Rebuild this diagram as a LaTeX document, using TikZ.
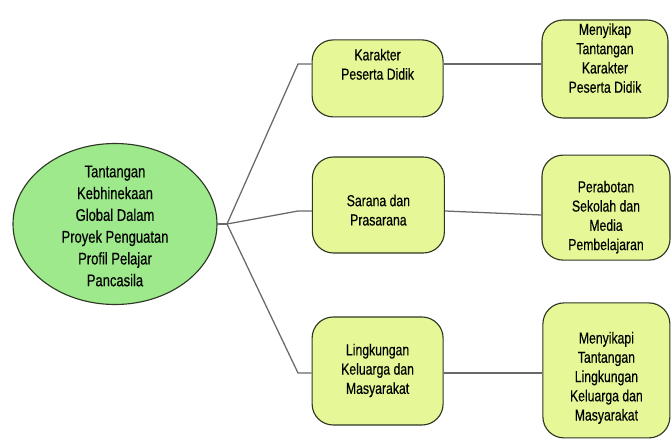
\documentclass[tikz,border=0pt]{standalone}
\usepackage{fontspec}
\setmainfont{Liberation Sans}[FakeStretch=0.77, FakeBold=0.35]
\usepackage{xcolor}
\usetikzlibrary{shapes.geometric, positioning}
\definecolor{rootgreen}{RGB}{158,233,140}
\definecolor{boxlime}{RGB}{229,247,150}
\definecolor{edgedark}{RGB}{45,55,35}
\definecolor{linkgray}{RGB}{105,105,105}
% lines of a node, moved up or down inside their box
\newcommand{\boxlines}[2]{\raisebox{#1}[0pt][0pt]{\begin{tabular}{@{}c@{}}#2\end{tabular}}}
\tikzset{
  rootnode/.style={ellipse, draw=edgedark, fill=rootgreen, line width=0.8pt,
                   minimum width=5.1cm, minimum height=4.025cm, inner sep=0pt,
                   font=\fontsize{12}{15.5}\selectfont},
  topic/.style={rectangle, draw=edgedark, fill=boxlime, rounded corners=15pt,
                line width=0.8pt, inner sep=0pt,
                font=\fontsize{11.3}{13.7}\selectfont},
  link/.style={draw=linkgray, line width=0.9pt},
  hublink/.style={draw=linkgray, line width=1.8pt}
}

\begin{document}
\begin{tikzpicture}

  \useasboundingbox (0,0) rectangle (16.8,-11);

  %% ── Root ────────────────────────────────────────────────────────────────
  \node[rootnode] (root) at (2.875,-5.6)
        {\boxlines{-0.19cm}{Tantangan\\Kebhinekaan\\Global Dalam\\Proyek Penguatan\\Profil Pelajar\\Pancasila}};

  %% ── Middle column ───────────────────────────────────────────────────────
  \node[topic, minimum width=3.275cm, minimum height=1.925cm] (karakter) at (9.44,-1.96)
        {\boxlines{0.21cm}{Karakter\\Peserta Didik}};
  \node[topic, minimum width=3.3cm, minimum height=2.4cm] (sarana) at (9.46,-5.125)
        {\boxlines{-0.27cm}{Sarana dan\\Prasarana}};
  \node[topic, minimum width=3.275cm, minimum height=2.7cm] (lingkungan) at (9.44,-9.275)
        {\boxlines{-0.09cm}{Lingkungan\\Keluarga dan\\Masyarakat}};

  %% ── Right column ────────────────────────────────────────────────────────
  \node[topic, minimum width=3.15cm, minimum height=2.45cm] (sikapkarakter) at (15.125,-1.725)
        {\boxlines{0.13cm}{Menyikap\\Tantangan\\Karakter\\Peserta Didik}};
  \node[topic, minimum width=3.2cm, minimum height=2.625cm] (perabotan) at (15.15,-5.19)
        {\boxlines{-0.34cm}{Perabotan\\Sekolah dan\\Media\\Pembelajaran}};
  \node[topic, minimum width=3.175cm, minimum height=3.375cm] (sikaplingkungan) at (15.16,-9.26)
        {\boxlines{-0.29cm}{Menyikapi\\Tantangan\\Lingkungan\\Keluarga dan\\Masyarakat}};

  %% ── Bend points ─────────────────────────────────────────────────────────
  \coordinate (hub) at (5.675,-5.6);
  \coordinate (bend1) at (7.45,-1.6);
  \coordinate (bend2) at (7.45,-5.275);
  \coordinate (bend3) at (7.45,-9.325);
  \coordinate (end2) at (12.5,-5.375);

  %% ── Connectors ──────────────────────────────────────────────────────────
  \draw[hublink] (root.east) -- (hub);

  \draw[link] (hub) -- (bend1) -- (bend1 -| karakter.west);
  \draw[link] (hub) -- (bend2) -- (bend2 -| sarana.west);
  \draw[link] (hub) -- (bend3) -- (bend3 -| lingkungan.west);

  \draw[link] (bend1 -| karakter.east) -- (bend1 -| sikapkarakter.west);
  \draw[link] (bend2 -| sarana.east) -- (end2 -| perabotan.west);
  \draw[link] (bend3 -| lingkungan.east) -- (bend3 -| sikaplingkungan.west);

\end{tikzpicture}
\end{document}
